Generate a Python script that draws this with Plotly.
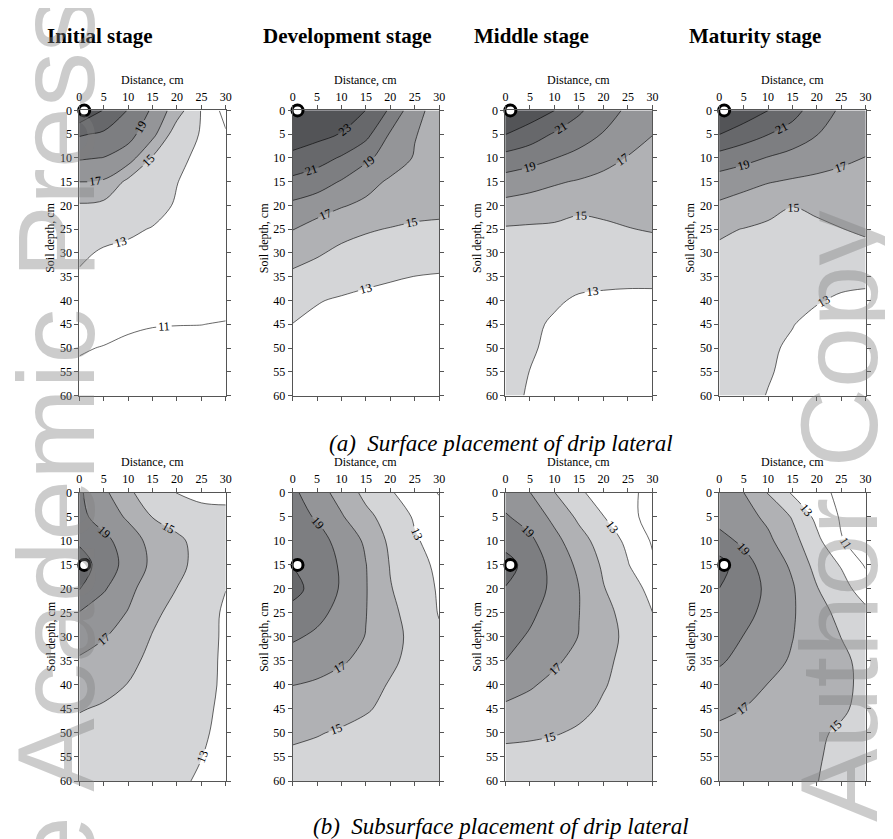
import plotly.graph_objects as go

# ---------------- data ----------------
DISTANCE_CM = [0, 5, 10, 15, 20, 25, 30]
DEPTH_CM = [0, 5, 10, 15, 20, 25, 30, 35, 40, 45, 50, 55, 60]
X_TICKS = [0, 5, 10, 15, 20, 25, 30]
Y_TICKS = [0, 5, 10, 15, 20, 25, 30, 35, 40, 45, 50, 55, 60]
STAGES = ["Initial stage", "Development stage", "Middle stage", "Maturity stage"]
CAPTIONS = ["(a)\u00a0 Surface placement of drip lateral",
            "(b)\u00a0 Subsurface placement of drip lateral"]
EMITTER_X = [1, 1]          # surface row, subsurface row
EMITTER_DEPTH = [0, 15]

# soil moisture (%) rows = depth 0..60, cols = distance 0..30
Z_SURF_INITIAL = [
    [25.0, 22.9, 20.9, 18.7, 15.9, 12.9, 10.3],
    [21.2, 20.7, 19.7, 17.6, 13.8, 12.9, 11.2],
    [19.2, 18.95, 18.0, 14.8, 13.5, 12.5, 12.0],
    [17.02, 16.8, 14.5, 13.9, 13.05, 12.2, 11.9],
    [14.8, 14.5, 14.1, 13.7, 12.8, 12.1, 11.8],
    [14.0, 13.6, 13.3, 12.9, 12.5, 12.0, 11.7],
    [13.3, 12.8, 12.6, 12.4, 12.2, 11.9, 11.6],
    [12.8, 12.5, 12.3, 12.1, 11.9, 11.7, 11.5],
    [12.3, 12.1, 11.9, 11.7, 11.6, 11.4, 11.3],
    [11.6, 11.4, 11.15, 11.05, 11.02, 11.01, 10.95],
    [11.1, 10.95, 10.8, 10.7, 10.7, 10.7, 10.7],
    [10.8, 10.7, 10.6, 10.5, 10.5, 10.5, 10.5],
    [10.5, 10.4, 10.3, 10.3, 10.3, 10.3, 10.3],
]
Z_SURF_DEVELOPMENT = [
    [25.5, 25.0, 24.2, 22.98, 20.7, 17.6, 16.2],
    [24.1, 23.6, 22.9, 21.6, 18.8, 17.1, 16.2],
    [22.5, 21.8, 20.8, 19.4, 18.1, 16.85, 16.3],
    [20.5, 19.9, 18.85, 17.7, 16.7, 16.2, 16.0],
    [18.6, 18.0, 17.15, 16.6, 16.2, 15.9, 15.7],
    [17.05, 16.15, 15.6, 15.2, 14.9, 14.6, 14.5],
    [15.8, 15.2, 14.6, 14.2, 14.0, 13.8, 13.6],
    [14.6, 14.2, 13.8, 13.4, 13.15, 12.98, 12.9],
    [13.8, 13.1, 12.8, 12.6, 12.5, 12.4, 12.3],
    [12.97, 12.6, 12.4, 12.2, 12.1, 12.0, 12.0],
    [12.5, 12.3, 12.1, 12.0, 11.9, 11.9, 11.9],
    [12.2, 12.1, 12.0, 11.9, 11.8, 11.8, 11.8],
    [12.0, 11.9, 11.8, 11.7, 11.7, 11.7, 11.7],
]
Z_SURF_MIDDLE = [
    [25.0, 24.2, 23.02, 21.3, 19.8, 18.7, 18.0],
    [23.05, 22.0, 20.8, 19.9, 18.9, 18.1, 17.05],
    [20.3, 19.8, 19.05, 18.4, 17.6, 16.9, 16.2],
    [18.2, 17.7, 17.2, 16.85, 16.5, 16.2, 15.9],
    [16.4, 16.2, 16.0, 15.4, 15.6, 15.5, 15.4],
    [14.8, 14.7, 14.6, 14.45, 14.6, 14.95, 15.1],
    [14.2, 14.1, 14.0, 13.9, 13.9, 14.0, 14.4],
    [13.9, 13.8, 13.6, 13.5, 13.4, 13.3, 13.3],
    [13.7, 13.5, 13.2, 12.8, 12.7, 12.7, 12.7],
    [13.6, 13.3, 12.8, 12.6, 12.5, 12.5, 12.5],
    [13.5, 13.2, 12.6, 12.4, 12.4, 12.4, 12.4],
    [13.4, 12.98, 12.5, 12.3, 12.3, 12.3, 12.3],
    [13.3, 12.9, 12.4, 12.3, 12.3, 12.3, 12.3],
]
Z_SURF_MATURITY = [
    [25.0, 24.2, 23.02, 21.7, 20.05, 18.7, 18.0],
    [23.05, 22.0, 21.05, 20.2, 19.05, 18.4, 17.9],
    [20.2, 19.6, 18.9, 18.3, 17.8, 17.3, 16.95],
    [18.1, 17.6, 17.1, 16.8, 16.6, 16.5, 16.4],
    [16.7, 16.2, 15.7, 15.05, 15.4, 15.9, 16.0],
    [15.25, 14.95, 14.6, 14.4, 14.6, 14.95, 15.3],
    [14.7, 14.5, 14.3, 14.2, 14.2, 14.3, 14.4],
    [14.4, 14.2, 14.0, 13.8, 13.6, 13.4, 13.3],
    [14.2, 14.0, 13.7, 13.4, 13.1, 12.8, 12.7],
    [14.0, 13.8, 13.4, 13.05, 12.6, 12.4, 12.3],
    [13.9, 13.6, 13.2, 12.8, 12.4, 12.2, 12.1],
    [13.8, 13.5, 13.1, 12.7, 12.3, 12.1, 12.0],
    [13.7, 13.4, 12.95, 12.6, 12.2, 12.0, 11.9],
]
Z_SUB_INITIAL = [
    [19.3, 17.5, 15.2, 14.4, 12.95, 12.5, 12.7],
    [19.5, 18.2, 16.7, 14.95, 14.2, 13.7, 13.3],
    [20.7, 19.5, 18.1, 16.3, 15.4, 14.3, 13.6],
    [22.0, 20.1, 18.3, 16.6, 15.45, 14.4, 13.5],
    [21.1, 19.2, 17.5, 16.0, 14.97, 14.2, 13.02],
    [18.9, 17.9, 16.9, 15.4, 14.4, 13.6, 12.8],
    [17.7, 17.1, 16.1, 14.9, 14.2, 13.5, 12.8],
    [16.8, 16.3, 15.4, 14.6, 14.0, 13.4, 12.8],
    [15.8, 15.5, 14.95, 14.4, 13.9, 13.35, 12.8],
    [15.1, 14.8, 14.5, 14.2, 13.8, 13.3, 12.7],
    [14.5, 14.4, 14.2, 14.0, 13.6, 13.2, 12.6],
    [14.1, 14.0, 13.9, 13.7, 13.4, 13.02, 12.5],
    [13.8, 13.8, 13.7, 13.5, 13.2, 12.85, 12.4],
]
Z_SUB_DEVELOPMENT = [
    [19.4, 17.9, 16.2, 14.5, 13.2, 12.0, 10.9],
    [19.8, 18.8, 17.2, 15.5, 14.2, 12.8, 11.8],
    [20.3, 19.8, 18.3, 16.7, 14.6, 13.2, 12.3],
    [20.95, 20.2, 18.75, 17.05, 14.9, 13.7, 12.6],
    [21.6, 20.3, 18.8, 17.1, 15.1, 14.0, 12.8],
    [20.4, 19.6, 18.3, 17.05, 15.4, 14.3, 12.9],
    [19.3, 18.6, 17.7, 16.95, 15.6, 14.5, 13.3],
    [18.0, 17.6, 17.2, 16.5, 15.35, 14.4, 13.6],
    [17.02, 16.8, 16.3, 15.7, 14.85, 14.2, 13.7],
    [16.2, 16.0, 15.6, 15.15, 14.6, 14.1, 13.7],
    [15.4, 15.1, 14.8, 14.5, 14.2, 13.9, 13.6],
    [14.6, 14.5, 14.3, 14.1, 13.9, 13.7, 13.5],
    [14.1, 14.0, 13.9, 13.8, 13.7, 13.6, 13.5],
]
Z_SUB_MIDDLE = [
    [18.1, 17.05, 15.05, 13.3, 12.2, 11.3, 10.6],
    [19.2, 18.2, 16.5, 14.6, 13.05, 11.4, 10.5],
    [20.3, 19.4, 17.6, 15.8, 14.1, 12.6, 10.8],
    [21.8, 20.2, 18.3, 16.6, 14.7, 13.1, 11.3],
    [20.9, 20.0, 18.5, 17.02, 15.1, 13.8, 12.5],
    [20.1, 19.35, 18.2, 17.03, 15.6, 14.3, 13.02],
    [19.6, 18.8, 17.9, 16.95, 15.5, 14.7, 13.8],
    [18.98, 18.3, 17.3, 16.4, 15.3, 14.6, 13.9],
    [17.7, 17.2, 16.5, 15.7, 15.1, 14.5, 14.0],
    [16.7, 16.3, 15.8, 15.35, 14.8, 14.3, 14.0],
    [15.4, 15.3, 15.1, 14.8, 14.4, 14.1, 13.9],
    [14.5, 14.4, 14.3, 14.2, 14.0, 13.9, 13.8],
    [14.0, 14.0, 13.9, 13.9, 13.8, 13.7, 13.7],
]
Z_SUB_MATURITY = [
    [17.9, 17.03, 14.9, 12.8, 11.7, 10.5, 10.0],
    [18.3, 17.7, 16.6, 14.85, 12.5, 10.8, 10.1],
    [19.7, 18.6, 17.4, 15.7, 13.5, 11.1, 10.3],
    [21.8, 19.8, 18.1, 16.7, 14.3, 12.85, 10.8],
    [20.98, 20.05, 18.6, 17.2, 15.1, 13.8, 12.0],
    [20.3, 19.6, 18.4, 17.2, 15.7, 14.5, 13.5],
    [19.7, 18.95, 18.0, 17.05, 15.9, 14.98, 14.2],
    [19.2, 18.5, 17.6, 16.8, 15.9, 15.3, 14.6],
    [18.4, 17.7, 16.95, 16.3, 15.7, 15.3, 14.7],
    [17.4, 16.98, 16.5, 16.0, 15.6, 15.2, 14.6],
    [16.6, 16.3, 16.0, 15.6, 15.2, 14.8, 14.4],
    [16.2, 16.0, 15.7, 15.4, 15.1, 14.7, 14.3],
    [15.9, 15.7, 15.5, 15.2, 15.03, 14.6, 14.2],
]
PANELS = [
    [Z_SURF_INITIAL, Z_SURF_DEVELOPMENT, Z_SURF_MIDDLE, Z_SURF_MATURITY],
    [Z_SUB_INITIAL, Z_SUB_DEVELOPMENT, Z_SUB_MIDDLE, Z_SUB_MATURITY],
]
LEVEL_START, LEVEL_END, LEVEL_STEP = 11, 23, 2

# ---------------- style / layout ----------------
W, H = 893, 839
SERIF = "Liberation Serif"
BAND_COLORS = ["#ffffff", "#ffffff", "#d4d5d7", "#b0b1b4", "#949598",
               "#7d7e81", "#67686b", "#535457"]
BAND_SCALE = [[k / 7, c] for k, c in enumerate(BAND_COLORS)]
AX_COLOR = "#555555"

col_px = [(69, 217), (284.5, 432.5), (499.5, 648), (715.5, 863.3)]
row_px = [(97, 387), (486, 779)]


def px_x(v):
    return v / W


def px_y(v):
    return 1 - v / H


def note(text, x, y, size, angle=0, family=SERIF, color="black"):
    return dict(text=text, xref="paper", yref="paper", x=px_x(x), y=px_y(y),
                xanchor="center", yanchor="middle", showarrow=False,
                textangle=angle, font=dict(family=family, size=size, color=color))


fig = go.Figure()
layout = dict(width=W, height=H, margin=dict(l=0, r=0, t=0, b=0),
              paper_bgcolor="white", plot_bgcolor="white",
              showlegend=False, annotations=[])

for r in range(2):
    for c in range(4):
        i = r * 4 + c + 1
        xa = "x" if i == 1 else f"x{i}"
        ya = "y" if i == 1 else f"y{i}"
        xkey = "xaxis" if i == 1 else f"xaxis{i}"
        ykey = "yaxis" if i == 1 else f"yaxis{i}"
        fig.add_trace(go.Contour(
            x=DISTANCE_CM, y=DEPTH_CM, z=PANELS[r][c], xaxis=xa, yaxis=ya,
            autocontour=False,
            contours=dict(start=LEVEL_START, end=LEVEL_END, size=LEVEL_STEP,
                          coloring="fill", showlines=True, showlabels=True,
                          labelfont=dict(family=SERIF, size=12, color="black")),
            colorscale=BAND_SCALE, showscale=False,
            line=dict(color="black", width=0.6, smoothing=1),
            hoverinfo="skip"))
        fig.add_trace(go.Scatter(
            x=[EMITTER_X[r]], y=[EMITTER_DEPTH[r]], xaxis=xa, yaxis=ya,
            mode="markers", cliponaxis=False, hoverinfo="skip",
            marker=dict(size=11, color="white", line=dict(color="black", width=3))))
        common = dict(showline=True, linecolor=AX_COLOR, linewidth=1, mirror="ticks",
                      ticks="outside", ticklen=4, tickcolor=AX_COLOR, tickwidth=1,
                      showgrid=False, zeroline=False,
                      tickfont=dict(family=SERIF, size=12, color="black"))
        x0, x1 = col_px[c]
        y0, y1 = row_px[r]
        layout[xkey] = dict(domain=[px_x(x0), px_x(x1)], range=[0, 30], side="top",
                            tickvals=X_TICKS, anchor=ya, **common)
        layout[ykey] = dict(domain=[px_y(y1), px_y(y0)], range=[60, 0],
                            tickvals=Y_TICKS, anchor=xa, **common)
        layout["annotations"].append(note("Distance, cm", (x0 + x1) / 2, y0 - 31, 12))
        layout["annotations"].append(note(
            "Soil depth, cm", x0 - 29, (y0 + y1) / 2 - (15 if r == 0 else 0), 12, angle=-90))

# stage titles
for c, cx in enumerate([90, 340, 526, 752]):
    layout["annotations"].append(note(f"<b>{STAGES[c]}</b>", cx, 21, 21))

# captions
for r, cy in enumerate([436, 825]):
    layout["annotations"].append(note(f"<i>{CAPTIONS[r]}</i>", 495, cy, 23))

# watermark
WM_COLOR = "rgba(128,128,128,0.40)"
layout["annotations"].append(note("e Academic Press", 45, 430, 110, angle=-90,
                                  family="Liberation Sans", color=WM_COLOR))
layout["annotations"].append(note("Author Copy", 836, 510, 110, angle=-90,
                                  family="Liberation Sans", color=WM_COLOR))

fig.update_layout(**layout)
fig.write_html("out.html")
